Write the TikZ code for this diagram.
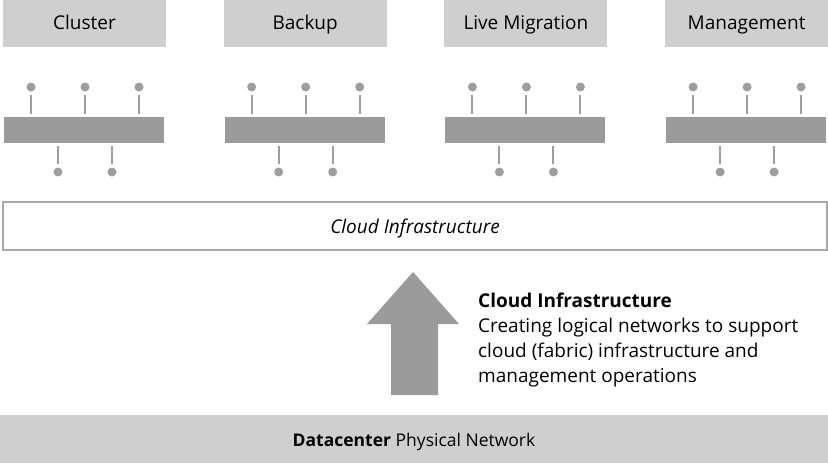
\documentclass[tikz,border=0pt]{standalone}
\usepackage{fontspec}
\setmainfont{Open Sans}
\definecolor{lbox}{HTML}{CFCFCF}
\definecolor{barc}{HTML}{9B9B9B}
\definecolor{pinc}{HTML}{9E9E9E}
\definecolor{framec}{HTML}{A8A8A8}
\begin{document}
\begin{tikzpicture}[x=1pt,y=-1pt,
  labelbox/.style={fill=lbox,draw=none,minimum width=163pt,minimum height=47pt,inner sep=0pt,text height=16pt,text depth=4pt,font=\fontsize{19}{23}\selectfont},
  netbar/.style={fill=barc,draw=none,minimum width=160pt,minimum height=26pt,inner sep=0pt},
  pindot/.style={circle,fill=pinc,draw=none,minimum size=9pt,inner sep=0pt},
  pinline/.style={draw=pinc,line width=2pt,shorten <=3.5pt,shorten >=3pt},
  txt/.style={font=\fontsize{19}{25}\selectfont,inner sep=0pt}]
\useasboundingbox (0,0) rectangle (828,463);
\foreach \name [count=\i from 0] in {Cluster,Backup,Live Migration,Management}{
  \pgfmathsetmacro{\L}{4+220.7*\i}
  \node[labelbox] (lab\i) at (\L+80.5,23.5) {\name};
  \node[netbar] (bar\i) at (\L+80,130) {};
  \foreach \dx [count=\j] in {27,81,135}{
    \node[pindot] (t\i\j) at (\L+\dx,87) {};
    \draw[pinline] (t\i\j) -- (bar\i.north -| t\i\j);
  }
  \foreach \dx [count=\j] in {54,108}{
    \node[pindot] (b\i\j) at (\L+\dx,172) {};
    \draw[pinline] (b\i\j) -- (bar\i.south -| b\i\j);
  }
}
\node[draw=framec,line width=2pt,fill=white,minimum width=824pt,minimum height=48pt,inner sep=0pt,text height=18pt,text depth=4pt,font=\fontsize{19}{23}\selectfont\itshape] (cloud) at (415,226) {Cloud Infrastructure};
\node[fill=lbox,minimum width=828pt,minimum height=48pt,inner sep=0pt,text height=18pt,text depth=4pt,font=\fontsize{17.5}{22}\selectfont] (dc) at (414,439) {\textbf{Datacenter} Physical Network};
\fill[barc] (391,395) -- (391,324) -- (367,324) -- (413,272) -- (459,324) -- (438,324) -- (438,395) -- cycle;
\node[txt,anchor=base west,align=left] (desc) at (478,382) {\textbf{Cloud Infrastructure}\\Creating logical networks to support\\cloud (fabric) infrastructure and\\management operations};
\end{tikzpicture}
\end{document}
